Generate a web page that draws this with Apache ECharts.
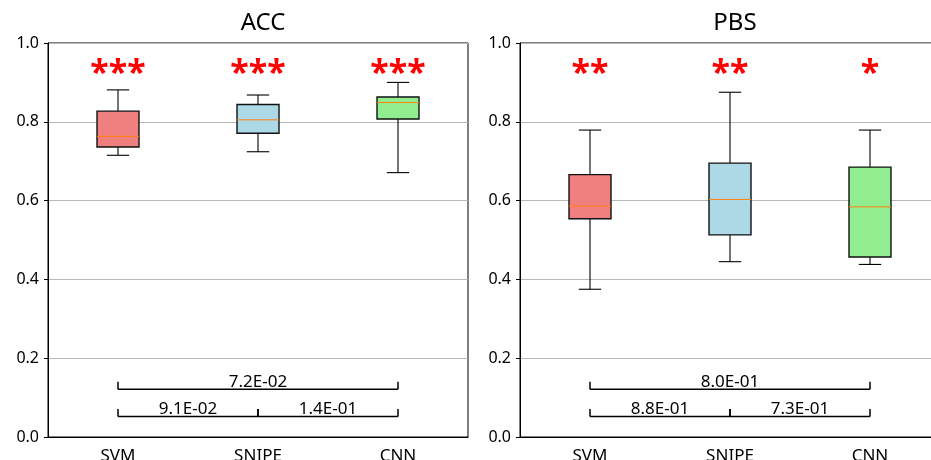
<!DOCTYPE html>
<html>
<head>
<meta charset="utf-8">
<script src="https://cdn.jsdelivr.net/npm/echarts@6/dist/echarts.min.js"></script>
<style>
  html, body { margin: 0; padding: 0; background: #fff; overflow: hidden; }
  #chart { width: 942px; height: 460px; }
</style>
</head>
<body>
<div id="chart"></div>
<script>
// categories and box colours
var CATS = ['SVM', 'SNIPE', 'CNN'];
var BOX_COLORS = ['#f08080', '#add8e6', '#90ee90'];

// ACC box stats (whisker low, q1, median, q3, whisker high)
var ACC_LOW = [0.715, 0.724, 0.671];
var ACC_Q1 = [0.736, 0.771, 0.807];
var ACC_MED = [0.763, 0.805, 0.849];
var ACC_Q3 = [0.827, 0.844, 0.863];
var ACC_HIGH = [0.881, 0.868, 0.900];
var ACC_STARS = ['***', '***', '***'];

// PBS box stats
var PBS_LOW = [0.375, 0.445, 0.438];
var PBS_Q1 = [0.554, 0.513, 0.457];
var PBS_MED = [0.586, 0.603, 0.584];
var PBS_Q3 = [0.666, 0.695, 0.685];
var PBS_HIGH = [0.779, 0.875, 0.779];
var PBS_STARS = ['**', '**', '*'];

// pairwise p-values: SVM-SNIPE, SNIPE-CNN, SVM-CNN
var PAIRS = [[0, 1], [1, 2], [0, 2]];
var ACC_P = ['9.1E-02', '1.4E-01', '7.2E-02'];
var PBS_P = ['8.8E-01', '7.3E-01', '8.0E-01'];

// annotation heights (axis units)
var PAIR_LEVEL = [0.052, 0.052, 0.121];
var TICK_H = 0.019;
var STAR_Y = 0.92;

var FONT = 'Noto Sans';
var chart = echarts.init(document.getElementById('chart'));

function boxData(low, q1, med, q3, high) {
  return CATS.map(function (c, i) { return [i, low[i], q1[i], med[i], q3[i], high[i]]; });
}

function renderBox(params, api) {
  var i = params.dataIndex;
  var x = api.value(0);
  var band = api.size([1, 0])[0];
  var hw = band * 0.15, cw = band * 0.08;
  var pLow = api.coord([x, api.value(1)]);
  var pQ1 = api.coord([x, api.value(2)]);
  var pMed = api.coord([x, api.value(3)]);
  var pQ3 = api.coord([x, api.value(4)]);
  var pHigh = api.coord([x, api.value(5)]);
  var c = pLow[0];
  var ln = { stroke: '#000', lineWidth: 1.1 };
  return {
    type: 'group',
    children: [
      { type: 'line', shape: { x1: c, y1: pHigh[1], x2: c, y2: pQ3[1] }, style: ln },
      { type: 'line', shape: { x1: c, y1: pQ1[1], x2: c, y2: pLow[1] }, style: ln },
      { type: 'line', shape: { x1: c - cw, y1: pHigh[1], x2: c + cw, y2: pHigh[1] }, style: ln },
      { type: 'line', shape: { x1: c - cw, y1: pLow[1], x2: c + cw, y2: pLow[1] }, style: ln },
      { type: 'rect', shape: { x: c - hw, y: pQ3[1], width: hw * 2, height: pQ1[1] - pQ3[1] },
        style: { fill: BOX_COLORS[i], stroke: '#111', lineWidth: 1.4 } },
      { type: 'line', shape: { x1: c - hw, y1: pMed[1], x2: c + hw, y2: pMed[1] },
        style: { stroke: '#ff7f0e', lineWidth: 1 } }
    ]
  };
}

function starsRenderer(stars) {
  return function (params, api) {
    var p = api.coord([api.value(0), api.value(1)]);
    return {
      type: 'text',
      style: {
        text: stars[params.dataIndex], x: p[0], y: p[1],
        align: 'center', verticalAlign: 'middle',
        fill: '#ff0000', fontSize: 34, fontWeight: 'bold', fontFamily: FONT
      }
    };
  };
}

function pairRenderer(labels) {
  return function (params, api) {
    var a = api.coord([api.value(0), api.value(2)]);
    var b = api.coord([api.value(1), api.value(2)]);
    var t = api.coord([api.value(0), api.value(2) + TICK_H]);
    var ln = { stroke: '#000', lineWidth: 1.5 };
    return {
      type: 'group',
      children: [
        { type: 'line', shape: { x1: a[0], y1: a[1], x2: b[0], y2: b[1] }, style: ln },
        { type: 'line', shape: { x1: a[0], y1: a[1], x2: a[0], y2: t[1] }, style: ln },
        { type: 'line', shape: { x1: b[0], y1: b[1], x2: b[0], y2: t[1] }, style: ln },
        { type: 'text', style: {
            text: labels[params.dataIndex], x: (a[0] + b[0]) / 2, y: a[1] + 1,
            align: 'center', verticalAlign: 'bottom',
            fill: '#000', fontSize: 17, fontFamily: FONT } }
      ]
    };
  };
}

function pairData() {
  return PAIRS.map(function (p, k) { return [p[0], p[1], PAIR_LEVEL[k]]; });
}

function starData() {
  return CATS.map(function (c, i) { return [i, STAR_Y]; });
}

function xAxisFor(idx) {
  return {
    type: 'category', gridIndex: idx, data: CATS, boundaryGap: true,
    axisLine: { lineStyle: { color: '#000', width: 1 } },
    axisTick: { alignWithLabel: true, length: 4, lineStyle: { color: '#000' } },
    axisLabel: { color: '#000', fontSize: 17, fontFamily: FONT, margin: 11 },
    splitLine: { show: false }
  };
}

function yAxisFor(idx) {
  return {
    type: 'value', gridIndex: idx, min: 0, max: 1, interval: 0.2,
    axisLine: { show: true, lineStyle: { color: '#000', width: 1 } },
    axisTick: { show: true, length: 4, lineStyle: { color: '#000' } },
    axisLabel: { color: '#000', fontSize: 16, fontFamily: FONT, margin: 9,
      formatter: function (v) { return v.toFixed(1); } },
    splitLine: { show: true, lineStyle: { color: '#b8b8b8', width: 1 } }
  };
}

var option = {
  animation: false,
  backgroundColor: '#fff',
  title: [
    { text: 'ACC', left: 258, top: 6, textAlign: 'center',
      textStyle: { fontSize: 24, fontWeight: 'normal', color: '#000', fontFamily: FONT } },
    { text: 'PBS', left: 730, top: 6, textAlign: 'center',
      textStyle: { fontSize: 24, fontWeight: 'normal', color: '#000', fontFamily: FONT } }
  ],
  grid: [
    { left: 48, top: 43, width: 420, height: 394, outerBoundsMode: 'none',
      show: true, borderColor: '#000', borderWidth: 1 },
    { left: 520, top: 43, width: 420, height: 394, outerBoundsMode: 'none',
      show: true, borderColor: '#000', borderWidth: 1 }
  ],
  xAxis: [xAxisFor(0), xAxisFor(1)],
  yAxis: [yAxisFor(0), yAxisFor(1)],
  series: [
    { type: 'custom', xAxisIndex: 0, yAxisIndex: 0, encode: { x: 0, y: [1, 2, 3, 4, 5] },
      data: boxData(ACC_LOW, ACC_Q1, ACC_MED, ACC_Q3, ACC_HIGH), renderItem: renderBox, z: 3 },
    { type: 'custom', xAxisIndex: 1, yAxisIndex: 1, encode: { x: 0, y: [1, 2, 3, 4, 5] },
      data: boxData(PBS_LOW, PBS_Q1, PBS_MED, PBS_Q3, PBS_HIGH), renderItem: renderBox, z: 3 },
    { type: 'custom', xAxisIndex: 0, yAxisIndex: 0, encode: { x: 0, y: 1 },
      data: starData(), renderItem: starsRenderer(ACC_STARS), z: 4 },
    { type: 'custom', xAxisIndex: 1, yAxisIndex: 1, encode: { x: 0, y: 1 },
      data: starData(), renderItem: starsRenderer(PBS_STARS), z: 4 },
    { type: 'custom', xAxisIndex: 0, yAxisIndex: 0, encode: { x: [0, 1], y: 2 },
      data: pairData(), renderItem: pairRenderer(ACC_P), z: 4 },
    { type: 'custom', xAxisIndex: 1, yAxisIndex: 1, encode: { x: [0, 1], y: 2 },
      data: pairData(), renderItem: pairRenderer(PBS_P), z: 4 }
  ]
};

chart.setOption(option);
</script>
</body>
</html>
